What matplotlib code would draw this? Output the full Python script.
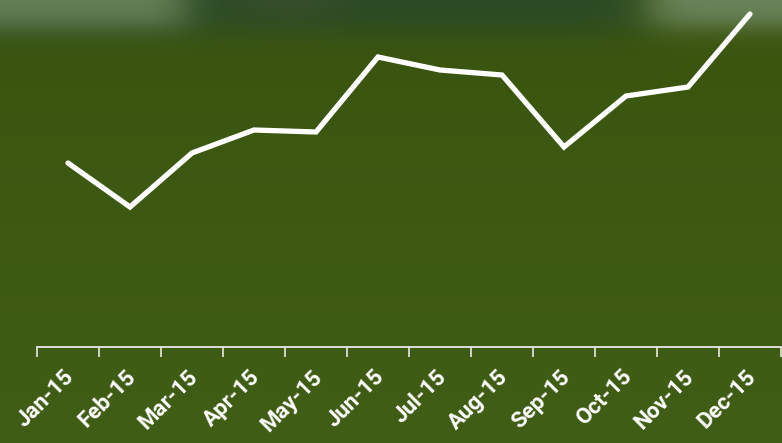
import numpy as np
import matplotlib
matplotlib.use("Agg")
import matplotlib.pyplot as plt
import matplotlib.transforms as mtransforms

months = ["Jan-15", "Feb-15", "Mar-15", "Apr-15", "May-15", "Jun-15",
          "Jul-15", "Aug-15", "Sep-15", "Oct-15", "Nov-15", "Dec-15"]
values = [184, 140, 194, 217, 215, 290, 277, 272, 200, 251, 260, 333]

W, H = 782, 443
fig = plt.figure(figsize=(W / 100, H / 100), dpi=100)

# blurred green field background
yy, xx = np.mgrid[0:H, 0:W].astype(float)
base_top = np.array([58, 84, 14]) / 255
base_bot = np.array([64, 94, 22]) / 255
t = (yy / H)[..., None]
img = base_top * (1 - t) + base_bot * t

def sig(v, edge, soft):
    return 1 / (1 + np.exp(-(v - edge) / soft))

def rect(x0, x1, y0, y1, sx, sy):
    return (sig(xx, x0, sx) * (1 - sig(xx, x1, sx)) *
            sig(yy, y0, sy) * (1 - sig(yy, y1, sy)))[..., None]

for (x0, x1, y0, y1, sx, sy), col, s in [
    ((-100, 650, -100, 30, 18, 9), (40, 72, 42), 0.85),
    ((-100, 185, -100, 26, 12, 7), (104, 130, 88), 0.95),
    ((650, 900, -100, 26, 12, 7), (110, 134, 95), 0.95),
    ((250, 330, -100, 14, 15, 8), (75, 85, 55), 0.5),
]:
    g = rect(x0, x1, y0, y1, sx, sy) * s
    c = np.array(col) / 255
    img = img * (1 - g) + c * g

bg = fig.add_axes([0, 0, 1, 1], zorder=0)
bg.imshow(np.clip(img, 0, 1), aspect="auto", extent=(0, W, H, 0))
bg.axis("off")

ax = fig.add_axes([37 / W, 96 / H, 744 / W, 347 / H], zorder=1)
ax.patch.set_alpha(0)
x = np.arange(len(months))
ax.plot(x, values, color="white", lw=3.8, solid_joinstyle="miter", solid_capstyle="round")
ax.set_xlim(-0.5, len(months) - 0.5)
ax.set_ylim(0, 347)

for s in ["top", "right", "left"]:
    ax.spines[s].set_visible(False)
ax.spines["bottom"].set_color("#e8e8e8")
ax.spines["bottom"].set_linewidth(1.3)
ax.set_yticks([])

ax.set_xticks(x)
ax.set_xticklabels(months, rotation=45, ha="right", va="center",
                   rotation_mode="anchor", color="white", fontsize=16,
                   fontweight="bold", family="Roboto")
ax.tick_params(axis="x", which="major", length=0, pad=19)
offset = mtransforms.ScaledTranslation(3 / 100, 0, fig.dpi_scale_trans)
for lab in ax.get_xticklabels():
    lab.set_transform(lab.get_transform() + offset)
ax.set_xticks(np.arange(-0.5, len(months)), minor=True)
ax.tick_params(axis="x", which="minor", length=7, width=1.2, color="#e8e8e8")

fig.savefig("out.png", dpi=100)
